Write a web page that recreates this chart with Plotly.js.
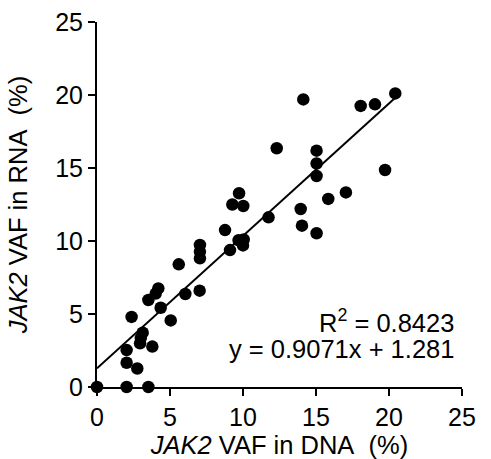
<!DOCTYPE html>
<html>
<head>
<meta charset="utf-8">
<script src="https://cdn.plot.ly/plotly-3.0.1.min.js"></script>
<style>html,body{margin:0;padding:0;background:#fff;}#chart{width:491px;height:459px;}</style>
</head>
<body>
<div id="chart"></div>
<script>
const dnaVaf = [0, 2.03, 3.52, 2.03, 2.76, 2.03, 2.95, 3.0, 3.13, 3.79, 2.37, 5.05, 3.52, 4.36, 4.02, 4.2, 6.05, 7.03, 5.6, 7.05, 7.05, 7.05, 8.77, 9.11, 9.7, 10.05, 10.0, 9.27, 10.02, 9.73, 11.75, 12.31, 14.13, 18.06, 19.04, 20.43, 15.04, 15.04, 15.04, 19.73, 17.05, 15.84, 13.95, 14.04, 15.04];
const rnaVaf = [0, 0, 0, 1.66, 1.27, 2.53, 2.99, 3.35, 3.72, 2.77, 4.8, 4.56, 5.96, 5.43, 6.4, 6.75, 6.37, 6.6, 8.4, 9.73, 9.27, 8.81, 10.75, 9.38, 10.05, 10.1, 9.7, 12.5, 12.4, 13.27, 11.62, 16.35, 19.7, 19.25, 19.36, 20.11, 16.19, 15.31, 14.45, 14.86, 13.33, 12.88, 12.19, 11.05, 10.53];
const fitSlope = 0.9071;
const fitIntercept = 1.281;
const fitXRange = [0, 20.43];
const r2Text = "R<sup>2</sup> = 0.8423";
const eqText = "y = 0.9071x + 1.281";
const xTitle = "<i>JAK2</i> VAF in DNA\u00A0\u00A0(%)";
const yTitle = "<i>JAK2</i> VAF in RNA\u00A0\u00A0(%)";
const tickValues = [0, 5, 10, 15, 20, 25];

const fitY = fitXRange.map(x => fitSlope * x + fitIntercept);

const fam = "Liberation Sans, Arial, sans-serif";
const f = (s) => ({family: fam, color: "#000", size: s});

const traces = [
  {x: fitXRange, y: fitY, mode: "lines", line: {color: "#000", width: 2}, hoverinfo: "skip", cliponaxis: false},
  {x: dnaVaf, y: rnaVaf, mode: "markers", marker: {color: "#000", size: 12.5}, cliponaxis: false}
];

const axisCommon = {
  range: [0, 25], tickvals: tickValues, ticks: "outside", ticklen: 7, tickwidth: 2, tickcolor: "#000",
  showline: true, linewidth: 2, linecolor: "#000", showgrid: false, zeroline: false,
  tickfont: f(25), fixedrange: true
};

const layout = {
  width: 491, height: 459,
  margin: {l: 97, r: 29, t: 22, b: 72},
  paper_bgcolor: "#fff", plot_bgcolor: "#fff",
  showlegend: false,
  xaxis: Object.assign({}, axisCommon, {
    title: {text: xTitle, font: f(25.5), standoff: 3}
  }),
  yaxis: Object.assign({}, axisCommon, {
    title: {text: yTitle, font: f(25.5), standoff: 20}
  }),
  annotations: [
    {xref: "paper", yref: "paper", x: 0.983, y: 0.181, xanchor: "right", yanchor: "middle", text: r2Text, showarrow: false, font: f(25.5)},
    {xref: "paper", yref: "paper", x: 0.983, y: 0.104, xanchor: "right", yanchor: "middle", text: eqText, showarrow: false, font: f(25.5)}
  ]
};

Plotly.newPlot("chart", traces, layout, {displayModeBar: false, staticPlot: true});
</script>
</body>
</html>
